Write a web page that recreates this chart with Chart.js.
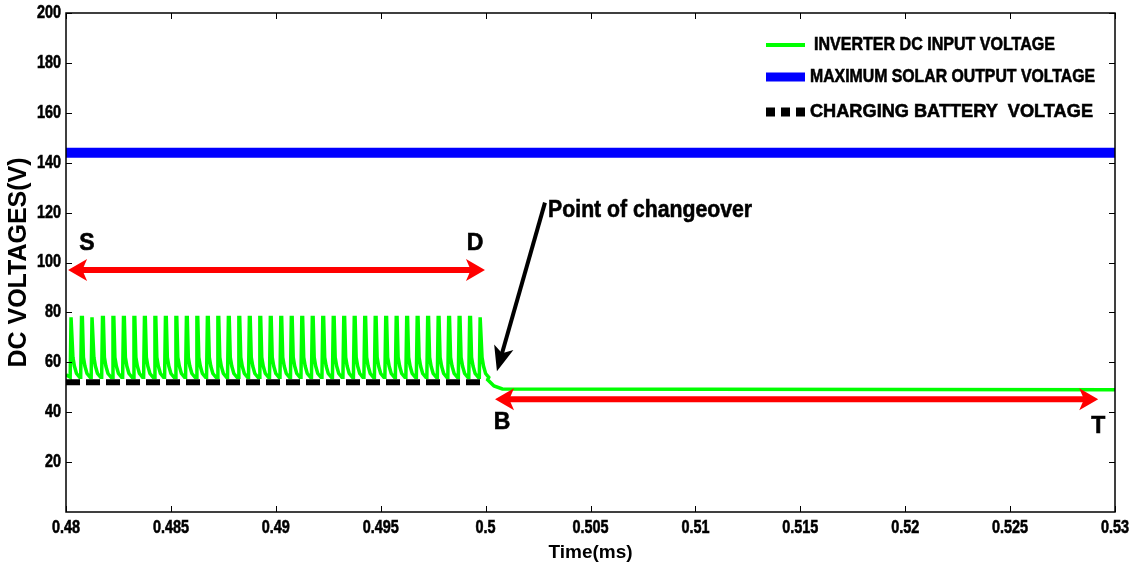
<!DOCTYPE html>
<html>
<head>
<meta charset="utf-8">
<script src="https://cdn.jsdelivr.net/npm/chart.js@4.4.1/dist/chart.umd.min.js"></script>
<style>
    html, body { margin: 0; padding: 0; background: #fff; }
    #wrap { width: 1135px; height: 572px; }
</style>
</head>
<body>
<div id="wrap"><canvas id="voltChart" width="1135" height="572"></canvas></div>
<script>
// ---- data ----
const xTicks = [0.48, 0.485, 0.49, 0.495, 0.5, 0.505, 0.51, 0.515, 0.52, 0.525, 0.53];
const yTicks = [20, 40, 60, 80, 100, 120, 140, 160, 180, 200];

// spike starts (ms) before the changeover: one every 0.0005 ms
const spikeStarts = [
    0.4802, 0.4807, 0.4812, 0.4817, 0.4822, 0.4827, 0.4832, 0.4837, 0.4842, 0.4847,
    0.4852, 0.4857, 0.4862, 0.4867, 0.4872, 0.4877, 0.4882, 0.4887, 0.4892, 0.4897,
    0.4902, 0.4907, 0.4912, 0.4917, 0.4922, 0.4927, 0.4932, 0.4937, 0.4942, 0.4947,
    0.4952, 0.4957, 0.4962, 0.4967, 0.4972, 0.4977, 0.4982, 0.4987, 0.4992, 0.4997
];
// shape of one spike: offset from its start (ms) and voltage
const spikeOffsets = [0, 0.00004, 0.00008, 0.00013, 0.0002, 0.0003, 0.00045];
const spikeValues  = [54, 78, 78, 62, 58.5, 55.5, 54];

// inverter voltage after the changeover
const afterTimes  = [0.5001, 0.5004, 0.5008, 0.53];
const afterValues = [53, 50.5, 49.3, 49];

const solarTimes  = [0.48, 0.53];
const solarValues = [144, 144];

const batteryTimes  = [0.48, 0.4998];
const batteryValues = [52, 52];

const seriesLabels = ['INVERTER DC INPUT VOLTAGE', 'MAXIMUM SOLAR OUTPUT VOLTAGE', 'CHARGING BATTERY  VOLTAGE'];
const seriesColors = ['#00ff00', '#0000ff', '#000000'];

// annotations (data coordinates)
const redArrows = [
    { x1: 0.4801, x2: 0.49997, y: 97 },
    { x1: 0.50045, x2: 0.5292, y: 45.2 }
];
const letters = [
    { text: 'S', x: 0.481, y: 107.6 },
    { text: 'D', x: 0.4995, y: 107.6 },
    { text: 'B', x: 0.50078, y: 36 },
    { text: 'T', x: 0.5292, y: 34.4 }
];
const changeArrow = { x1: 0.50283, y1: 124, x2: 0.50054, y2: 56.4 };
const changeText = { text: 'Point of changeover', x: 0.50298, y: 121 };

// build the green series from the spike template
const inverterData = [{ x: 0.48, y: 55 }];
spikeStarts.forEach(s => {
    spikeOffsets.forEach((o, i) => inverterData.push({ x: s + o, y: spikeValues[i] }));
});
afterTimes.forEach((t, i) => inverterData.push({ x: t, y: afterValues[i] }));

const toPts = (xs, ys) => xs.map((x, i) => ({ x: x, y: ys[i] }));

const FONT = "'Liberation Sans', Arial, sans-serif";
const SQUEEZE = 0.8;

// draw text, optionally squeezed to a width (null = default squeeze), with a hair stroke for weight
function fitText(ctx, text, x, y, width) {
    const w = ctx.measureText(text).width;
    ctx.save();
    ctx.translate(x, y);
    if (width && w > 0) ctx.scale(width / w, 1);
    else if (width === null) ctx.scale(SQUEEZE, 1);
    ctx.fillText(text, 0, 0);
    ctx.lineWidth = 0.6;
    ctx.strokeStyle = ctx.fillStyle;
    ctx.strokeText(text, 0, 0);
    ctx.restore();
}

function arrowHead(ctx, x, y, angle, len, half) {
    ctx.save();
    ctx.translate(x, y);
    ctx.rotate(angle);
    ctx.beginPath();
    ctx.moveTo(0, 0);
    ctx.lineTo(-len, -half);
    ctx.lineTo(-len * 0.75, 0);
    ctx.lineTo(-len, half);
    ctx.closePath();
    ctx.fill();
    ctx.restore();
}

const decorPlugin = {
    id: 'decor',
    afterDraw(chart) {
        const ctx = chart.ctx;
        const xs = chart.scales.x, ys = chart.scales.y;
        const a = chart.chartArea;

        // inward ticks on all four sides
        ctx.save();
        ctx.strokeStyle = '#000';
        ctx.lineWidth = 1;
        ctx.beginPath();
        xTicks.forEach(v => {
            const px = Math.round(xs.getPixelForValue(v)) + 0.5;
            ctx.moveTo(px, a.bottom); ctx.lineTo(px, a.bottom - 6);
            ctx.moveTo(px, a.top); ctx.lineTo(px, a.top + 6);
        });
        yTicks.forEach(v => {
            const py = Math.round(ys.getPixelForValue(v)) + 0.5;
            ctx.moveTo(a.left, py); ctx.lineTo(a.left + 6, py);
            ctx.moveTo(a.right, py); ctx.lineTo(a.right - 6, py);
        });
        ctx.stroke();
        ctx.lineWidth = 1.5;
        ctx.strokeRect(a.left, a.top, a.right - a.left, a.bottom - a.top);
        ctx.restore();

        // tick labels, condensed bold
        ctx.save();
        ctx.fillStyle = '#000';
        ctx.font = 'bold 18px ' + FONT;
        ctx.textBaseline = 'middle';
        ctx.textAlign = 'center';
        xTicks.forEach(v => {
            fitText(ctx, String(Number(v.toFixed(3))), xs.getPixelForValue(v), a.bottom + 16, null);
        });
        ctx.textAlign = 'right';
        yTicks.forEach(v => {
            fitText(ctx, String(v), a.left - 5, ys.getPixelForValue(v), null);
        });
        ctx.restore();

        // red double arrows
        ctx.save();
        ctx.strokeStyle = '#ff0000';
        ctx.fillStyle = '#ff0000';
        ctx.lineWidth = 6;
        redArrows.forEach(r => {
            const x1 = xs.getPixelForValue(r.x1), x2 = xs.getPixelForValue(r.x2);
            const y = ys.getPixelForValue(r.y);
            ctx.beginPath();
            ctx.moveTo(x1 + 10, y); ctx.lineTo(x2 - 10, y);
            ctx.stroke();
            arrowHead(ctx, x1, y, Math.PI, 19, 11);
            arrowHead(ctx, x2, y, 0, 19, 11);
        });
        ctx.restore();

        // black arrow to the changeover
        ctx.save();
        const bx1 = xs.getPixelForValue(changeArrow.x1), by1 = ys.getPixelForValue(changeArrow.y1);
        const bx2 = xs.getPixelForValue(changeArrow.x2), by2 = ys.getPixelForValue(changeArrow.y2);
        const ang = Math.atan2(by2 - by1, bx2 - bx1);
        ctx.strokeStyle = '#000';
        ctx.fillStyle = '#000';
        ctx.lineWidth = 4;
        ctx.beginPath();
        ctx.moveTo(bx1, by1);
        ctx.lineTo(bx2 - Math.cos(ang) * 14, by2 - Math.sin(ang) * 14);
        ctx.stroke();
        arrowHead(ctx, bx2, by2, ang, 25, 10);
        ctx.restore();

        // letters and label
        ctx.save();
        ctx.fillStyle = '#000';
        ctx.textBaseline = 'middle';
        ctx.textAlign = 'center';
        ctx.font = 'bold 23px ' + FONT;
        letters.forEach(l => {
            fitText(ctx, l.text, xs.getPixelForValue(l.x), ys.getPixelForValue(l.y), undefined);
        });
        ctx.textAlign = 'left';
        ctx.font = 'bold 24px ' + FONT;
        fitText(ctx, changeText.text, xs.getPixelForValue(changeText.x), ys.getPixelForValue(changeText.y), 204);
        ctx.restore();

        // legend, top right inside the axes
        ctx.save();
        ctx.textBaseline = 'middle';
        ctx.textAlign = 'left';
        ctx.font = 'bold 19px ' + FONT;
        ctx.fillStyle = '#000';
        const rows = [
            { y: 45, tx: 814, tw: 241, lw: 4, dash: [] },
            { y: 77, tx: 810, tw: 285, lw: 9, dash: [] },
            { y: 112, tx: 810, tw: 283, lw: 9, dash: [9, 6] }
        ];
        rows.forEach((r, i) => {
            ctx.strokeStyle = seriesColors[i];
            ctx.lineWidth = r.lw;
            ctx.setLineDash(r.dash);
            ctx.beginPath();
            ctx.moveTo(766, r.y); ctx.lineTo(805, r.y);
            ctx.stroke();
            ctx.setLineDash([]);
            fitText(ctx, seriesLabels[i], r.tx, r.y, r.tw);
        });
        ctx.restore();
    }
};

const ctx = document.getElementById('voltChart').getContext('2d');
const chart = new Chart(ctx, {
    type: 'line',
    data: {
        datasets: [{
            label: seriesLabels[0],
            data: inverterData,
            borderColor: seriesColors[0],
            borderWidth: 3.5,
            pointRadius: 0,
            tension: 0,
            order: 1
        }, {
            label: seriesLabels[1],
            data: toPts(solarTimes, solarValues),
            borderColor: seriesColors[1],
            borderWidth: 10,
            pointRadius: 0,
            order: 2
        }, {
            label: seriesLabels[2],
            data: toPts(batteryTimes, batteryValues),
            borderColor: seriesColors[2],
            borderWidth: 6,
            borderDash: [14, 6],
            borderCapStyle: 'butt',
            pointRadius: 0,
            order: 0
        }]
    },
    options: {
        responsive: false,
        animation: false,
        events: [],
        layout: { padding: { top: 13, right: 20, left: 0, bottom: 0 } },
        plugins: {
            legend: { display: false },
            tooltip: { enabled: false }
        },
        scales: {
            x: {
                type: 'linear',
                min: 0.48,
                max: 0.53,
                grid: { display: false, drawTicks: false },
                border: { display: false },
                afterBuildTicks: s => { s.ticks = xTicks.map(v => ({ value: v })); },
                afterFit: s => { s.height = 60; s.paddingLeft = 0; s.paddingRight = 0; },
                ticks: { display: false },
                title: {
                    display: true,
                    text: 'Time(ms)',
                    color: '#000',
                    padding: { top: 0, bottom: 8 },
                    font: { family: FONT, size: 19, weight: 'bold' }
                }
            },
            y: {
                min: 0,
                max: 200,
                grid: { display: false, drawTicks: false },
                border: { display: false },
                afterBuildTicks: s => { s.ticks = yTicks.map(v => ({ value: v })); },
                afterFit: s => { s.width = 66; s.paddingTop = 0; s.paddingBottom = 0; },
                ticks: { display: false },
                title: {
                    display: true,
                    text: 'DC VOLTAGES(V)',
                    color: '#000',
                    padding: { top: 4, bottom: 0 },
                    font: { family: FONT, size: 25, weight: 'bold' }
                }
            }
        }
    },
    plugins: [decorPlugin]
});
</script>
</body>
</html>
